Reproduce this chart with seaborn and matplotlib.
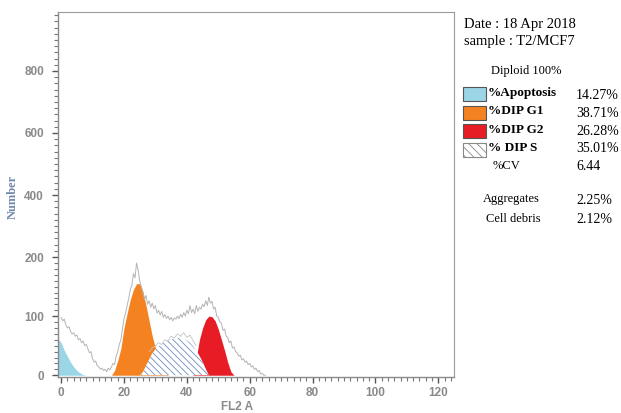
import numpy as np
import matplotlib
matplotlib.use("Agg")
import matplotlib.pyplot as plt
from matplotlib.patches import Rectangle
from matplotlib.ticker import FixedLocator
import seaborn as sns
import pandas as pd

# ---------------- data ----------------
hist_counts = [98, 92, 95, 85, 80, 82, 74, 70, 72, 66, 68, 60, 62, 55, 58, 50, 52, 45, 38, 40,
               28, 22, 24, 16, 14, 10, 12, 8, 10, 6, 12, 9, 14, 20, 18, 32, 40, 52, 60, 78,
               96, 105, 118, 130, 145, 152, 172, 165, 190, 178, 160, 150, 140, 128, 135, 120, 126, 115, 122, 112,
               118, 105, 110, 102, 108, 98, 103, 96, 100, 94, 98, 92, 97, 95, 100, 96, 103, 98, 106, 100,
               110, 104, 118, 106, 112, 104, 118, 108, 115, 112, 120, 116, 126, 118, 132, 122, 125, 112, 115, 100,
               98, 90, 88, 76, 78, 66, 64, 55, 58, 46, 48, 40, 38, 32, 34, 26, 28, 22, 24, 18,
               20, 14, 16, 10, 12, 6, 8, 2, 3, 0, 0]
hist_step = 0.5

s_noise_x = [28, 29, 30, 31, 32, 33, 34, 35, 36, 37, 38, 39, 40, 41, 42, 43]
s_noise_y = [40, 46, 50, 55, 52, 60, 58, 66, 63, 70, 66, 72, 64, 68, 58, 50]

apop_x = [-1, 0, 1, 2, 3, 4, 5, 6, 7, 8]
apop_y = [62, 55, 42, 32, 22, 14, 8, 4, 1, 0]

g1_x = [16, 17, 18, 19, 20, 21, 22, 23, 24, 25, 26, 27, 28, 29, 30, 31, 32, 33, 34]
g1_y = [0, 8, 25, 45, 80, 105, 128, 145, 155, 155, 142, 118, 92, 66, 46, 30, 18, 8, 0]

s_x = [25, 26, 27, 28, 29, 30, 31, 32, 33, 34, 35, 36, 37, 38, 39, 40, 41, 42, 43, 44, 45, 46, 47]
s_y = [0, 5, 16, 27, 37, 44, 49, 53, 56, 59, 61, 62, 63, 63, 62, 59, 55, 49, 42, 33, 23, 11, 0]

g2_x = [42, 43, 44, 45, 46, 47, 48, 49, 50, 51, 52, 53, 54, 55]
g2_y = [0, 30, 60, 80, 94, 100, 99, 92, 78, 60, 42, 22, 6, 0]

x_ticks = [0, 20, 40, 60, 80, 100, 120]
y_ticks = [0, 100, 200, 400, 600, 800]

header_lines = ["Date : 18 Apr 2018", "sample : T2/MCF7"]
legend_labels = ["%Apoptosis", "%DIP G1", "%DIP G2", "% DIP S"]
legend_values = ["14.27%", "38.71%", "26.28%", "35.01%"]
cv_label, cv_value = "%CV", "6.44"
extra_labels = ["Aggregates", "Cell debris"]
extra_values = ["2.25%", "2.12%"]

# ---------------- style ----------------
C_APOP = "#9ad6e6"
C_G1 = "#f58220"
C_G2 = "#e81c24"
C_HATCH = "#6f8fc0"
C_GRAY = "#b4b4b4"
C_TICK = "#8a8a8a"

sns.set_style("white")
plt.rcParams["hatch.linewidth"] = 0.6

W, H = 621, 413
fig = plt.figure(figsize=(W / 100, H / 100), dpi=100)
ax = fig.add_axes([58 / W, (H - 377) / H, (454 - 58) / W, (377 - 12) / H])


def fwd(y):
    y = np.asarray(y, dtype=float)
    return np.where(y <= 200, y, 200 + (y - 200) * 0.525)


def inv(t):
    t = np.asarray(t, dtype=float)
    return np.where(t <= 200, t, 200 + (t - 200) / 0.525)


ax.set_yscale("function", functions=(fwd, inv))

hist_df = pd.DataFrame({"FL2 A": np.arange(len(hist_counts)) * hist_step, "Number": hist_counts})

# model fills
ax.fill_between(apop_x, 0, apop_y, facecolor=C_APOP, linewidth=0, zorder=2)
ax.fill_between(g1_x, 0, g1_y, facecolor=C_G1, linewidth=0, zorder=2)
ax.fill_between(g2_x, 0, g2_y, facecolor=C_G2, linewidth=0, zorder=2)
ax.fill_between(s_x, 0, s_y, facecolor="white", edgecolor=C_HATCH, hatch="\\\\\\\\\\",
                linewidth=0, zorder=3)

# raw histogram
sns.lineplot(data=hist_df, x="FL2 A", y="Number", ax=ax, color=C_GRAY, linewidth=0.7, zorder=4)
sns.lineplot(x=s_noise_x, y=s_noise_y, ax=ax, color="#c4c4c4", linewidth=0.6, zorder=4)

ax.set_xlim(-1, 125)
ax.set_ylim(-3, 990)

ax.set_xticks(x_ticks)
ax.set_xticklabels([str(v) for v in x_ticks])
ax.set_yticks(y_ticks)
ax.set_yticklabels([str(v) for v in y_ticks])
ax.xaxis.set_minor_locator(FixedLocator(np.arange(0, 126, 2)))
ax.yaxis.set_minor_locator(FixedLocator(list(np.arange(0, 200, 10)) + list(np.arange(200, 990, 20))))

for lab in ax.get_xticklabels() + ax.get_yticklabels():
    lab.set_fontfamily("Liberation Sans")
    lab.set_fontweight("bold")
    lab.set_fontsize(8.5)
    lab.set_color(C_TICK)

ax.tick_params(axis="both", which="both", bottom=True, left=True, top=False, right=False)
ax.tick_params(axis="both", which="major", direction="out", length=4, width=1.0,
               color="#555555")
ax.tick_params(axis="both", which="minor", direction="out", length=3, width=0.8,
               color="#777777")
ax.tick_params(axis="y", which="major", pad=6)
ax.tick_params(axis="x", which="major", pad=3)

for side in ["top", "right"]:
    ax.spines[side].set_color("#9a9a9a")
    ax.spines[side].set_linewidth(0.8)
for side in ["left", "bottom"]:
    ax.spines[side].set_color("#8a8a8a")
    ax.spines[side].set_linewidth(1.0)

ax.set_xlabel("")
ax.set_ylabel("")
fig.text(237 / W, 1 - 407 / H, "FL2 A", ha="center", va="center", family="Liberation Sans",
         weight="bold", size=8.5, color=C_TICK)
fig.text(13 / W, 1 - 197 / H, "Number", ha="center", va="center", rotation=90,
         family="Liberation Serif", weight="bold", size=9, color="#7189ad")

# ---------------- right panel ----------------
def ftext(x, y, s, **kw):
    fig.text(x / W, 1 - y / H, s, va="baseline", family="Liberation Serif", color="black", **kw)


ftext(464, 28, header_lines[0], size=10.5)
ftext(464, 45, header_lines[1], size=10.5)
ftext(491, 74, "Diploid 100%", size=9)

box_tops = [87, 106, 124, 143]
label_base = [96, 114, 133, 151]
value_base = [99, 117, 135, 152]
box_colors = [C_APOP, C_G1, C_G2, "white"]
for i in range(4):
    kw = dict(facecolor=box_colors[i], edgecolor="#555555", linewidth=0.8)
    if i == 3:
        kw = dict(facecolor="white", edgecolor="#888888", linewidth=0.8, hatch="\\\\\\\\")
    r = Rectangle((463 / W, 1 - (box_tops[i] + 14) / H), 23 / W, 14 / H,
                  transform=fig.transFigure, **kw)
    fig.patches.append(r)
    ftext(488, label_base[i], legend_labels[i], size=9.5, weight="bold")
    ftext(576, value_base[i], legend_values[i], size=10)

ftext(493, 169, cv_label, size=9)
ftext(576, 170, cv_value, size=10)
ftext(483, 202, extra_labels[0], size=9)
ftext(576, 204, extra_values[0], size=10)
ftext(486, 222, extra_labels[1], size=9)
ftext(576, 223, extra_values[1], size=10)

fig.savefig("out.png", dpi=100)
